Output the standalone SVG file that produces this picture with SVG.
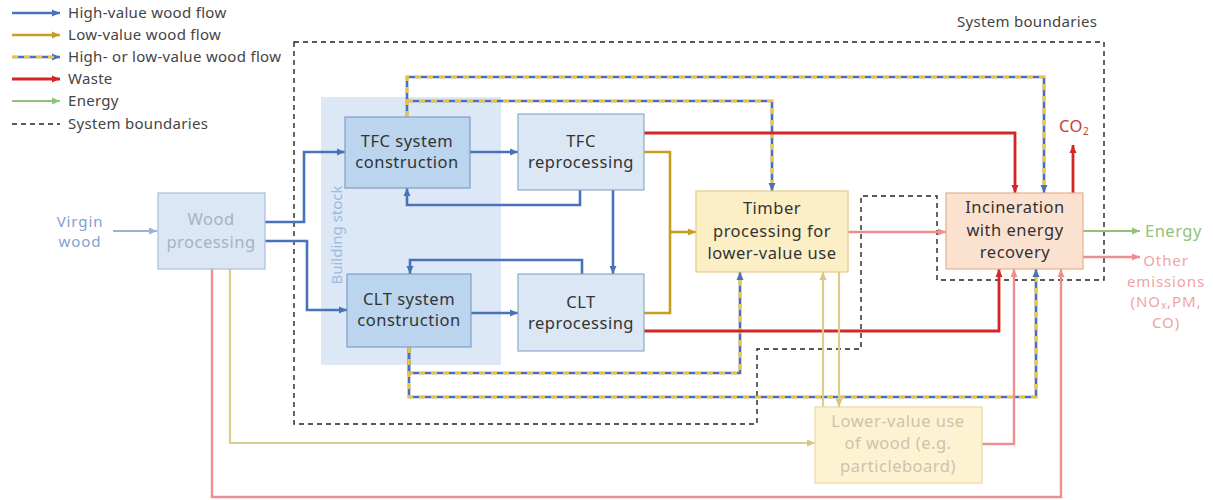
<svg xmlns="http://www.w3.org/2000/svg" width="1213" height="500" viewBox="0 0 1213 500">
  <style>
    text { font-family: "Noto Sans", "Liberation Sans", sans-serif; }
    .lbl { font-size: 16.5px; fill: #333; text-anchor: middle; letter-spacing: 0.5px; }
    .sm { font-size: 15px; letter-spacing: 0.9px; }
    .leg { font-size: 15px; fill: #444; letter-spacing: 0.3px; }
    .box { stroke-width: 1.2; }
    .blue { fill: none; stroke: #4a72bb; stroke-width: 2.6; }
    .gold { fill: none; stroke: #c69e22; stroke-width: 2.6; }
    .red { fill: none; stroke: #d42626; stroke-width: 2.8; }
    .pink { fill: none; stroke: #ee8f8f; stroke-width: 2.4; }
    .lgold { fill: none; stroke: #dccd8c; stroke-width: 2.2; }
    .green { fill: none; stroke: #92c27a; stroke-width: 2.2; }
    .lblue { fill: none; stroke: #97b3d8; stroke-width: 2.2; }
    .mix { fill: none; stroke: #f3c232; stroke-width: 2.6; stroke-dasharray: 6 6; }
    .bound { fill: none; stroke: #222; stroke-width: 1.4; stroke-dasharray: 5 4; }
  </style>
  <defs>
    <marker id="aBlue" markerUnits="userSpaceOnUse" markerWidth="9" markerHeight="8" refX="8" refY="4" orient="auto"><path d="M0,0.5 L8,4 L0,7.5 z" fill="#4a72bb"/></marker>
    <marker id="aGold" markerUnits="userSpaceOnUse" markerWidth="9" markerHeight="8" refX="8" refY="4" orient="auto"><path d="M0,0.5 L8,4 L0,7.5 z" fill="#c69e22"/></marker>
    <marker id="aRed" markerUnits="userSpaceOnUse" markerWidth="9" markerHeight="8" refX="8" refY="4" orient="auto"><path d="M0,0.5 L8,4 L0,7.5 z" fill="#d42626"/></marker>
    <marker id="aPink" markerUnits="userSpaceOnUse" markerWidth="9" markerHeight="8" refX="8" refY="4" orient="auto"><path d="M0,0.5 L8,4 L0,7.5 z" fill="#ee8f8f"/></marker>
    <marker id="aLgold" markerUnits="userSpaceOnUse" markerWidth="9" markerHeight="8" refX="8" refY="4" orient="auto"><path d="M0,0.5 L8,4 L0,7.5 z" fill="#d6c681"/></marker>
    <marker id="aGreen" markerUnits="userSpaceOnUse" markerWidth="9" markerHeight="8" refX="8" refY="4" orient="auto"><path d="M0,0.5 L8,4 L0,7.5 z" fill="#92c27a"/></marker>
    <marker id="aLblue" markerUnits="userSpaceOnUse" markerWidth="9" markerHeight="8" refX="8" refY="4" orient="auto"><path d="M0,0.5 L8,4 L0,7.5 z" fill="#97b3d8"/></marker>
  </defs>

  <!-- Legend -->
  <g id="legend">
    <line x1="12" y1="13" x2="60" y2="13" class="blue" marker-end="url(#aBlue)"/>
    <text x="68" y="18" class="leg">High-value wood flow</text>
    <line x1="12" y1="35" x2="60" y2="35" class="gold" marker-end="url(#aGold)"/>
    <text x="68" y="40" class="leg">Low-value wood flow</text>
    <line x1="12" y1="57" x2="60" y2="57" class="blue" marker-end="url(#aBlue)"/>
    <line x1="12" y1="57" x2="56" y2="57" class="mix"/>
    <text x="68" y="62" class="leg">High- or low-value wood flow</text>
    <line x1="12" y1="79" x2="60" y2="79" class="red" marker-end="url(#aRed)"/>
    <text x="68" y="84" class="leg">Waste</text>
    <line x1="12" y1="101" x2="60" y2="101" class="green" marker-end="url(#aGreen)"/>
    <text x="68" y="106" class="leg">Energy</text>
    <line x1="12" y1="124" x2="60" y2="124" class="bound"/>
    <text x="68" y="129" class="leg">System boundaries</text>
  </g>

  <!-- Building stock backdrop -->
  <g id="building-stock">
    <rect x="321" y="97" width="180" height="268" fill="#dce8f5"/>
    <text transform="translate(342,235) rotate(-90)" text-anchor="middle" style="font-size:15px;fill:#9cb9de">Building stock</text>
  </g>

  <!-- System boundaries -->
  <g id="system-boundaries">
    <path d="M294,42 H1104 V280 H937 V196 H861 V349 H757 V424 H294 Z" class="bound"/>
    <text x="957" y="27" class="leg">System boundaries</text>
  </g>

  <!-- Connectors -->
  <g id="connectors">
    <!-- virgin wood in -->
    <line x1="113" y1="231" x2="157" y2="231" class="lblue" marker-end="url(#aLblue)"/>
    <!-- wood processing to constructions -->
    <path d="M265,222 H304 V152 H345" class="blue" marker-end="url(#aBlue)"/>
    <path d="M265,241 H307 V310 H347" class="blue" marker-end="url(#aBlue)"/>
    <!-- construction to reprocessing -->
    <path d="M470,152 H518" class="blue" marker-end="url(#aBlue)"/>
    <path d="M471,313 H518" class="blue" marker-end="url(#aBlue)"/>
    <!-- reprocessing back to construction -->
    <path d="M580,190 V205 H407 V188" class="blue" marker-end="url(#aBlue)"/>
    <path d="M582,274 V260 H410 V274" class="blue" marker-end="url(#aBlue)"/>
    <!-- TFC reprocessing to CLT reprocessing -->
    <path d="M613,190 V274" class="blue" marker-end="url(#aBlue)"/>

    <!-- low-value flows to timber processing -->
    <path d="M644,152 H670 V313 H644" class="gold"/>
    <path d="M670,232 H696" class="gold" marker-end="url(#aGold)"/>

    <!-- high- or low-value flows from TFC construction -->
    <path d="M407,117 V77 H1044 V193" class="blue" marker-end="url(#aBlue)"/>
    <path d="M407,117 V77 H1044 V185" class="mix"/>
    <path d="M407,101 H772 V191" class="blue" marker-end="url(#aBlue)"/>
    <path d="M407,101 H772 V183" class="mix"/>
    <!-- high- or low-value flows from CLT construction -->
    <path d="M409,347 V373 H740 V272" class="blue" marker-end="url(#aBlue)"/>
    <path d="M409,347 V373 H740 V280" class="mix"/>
    <path d="M409,347 V397 H1036 V269" class="blue" marker-end="url(#aBlue)"/>
    <path d="M409,347 V397 H1036 V277" class="mix"/>

    <!-- waste to incineration -->
    <path d="M644,133 H1015 V193" class="red" marker-end="url(#aRed)"/>
    <path d="M644,331 H999 V269" class="red" marker-end="url(#aRed)"/>
    <path d="M1073,193 V145" class="red" marker-end="url(#aRed)"/>

    <!-- timber to incineration -->
    <path d="M848,232 H946" class="pink" marker-end="url(#aPink)"/>
    <!-- timber and lower-value use exchange -->
    <path d="M823,407 V272" class="lgold" marker-end="url(#aLgold)"/>
    <path d="M839,272 V407" class="lgold" marker-end="url(#aLgold)"/>
    <!-- wood processing by-products -->
    <path d="M230,269 V443 H815" class="lgold" marker-end="url(#aLgold)"/>
    <path d="M212,269 V497 H1061 V269" class="pink" marker-end="url(#aPink)"/>
    <!-- lower-value use to incineration -->
    <path d="M982,444 H1014 V269" class="pink" marker-end="url(#aPink)"/>

    <!-- incineration outputs -->
    <path d="M1083,231 H1140" class="green" marker-end="url(#aGreen)"/>
    <path d="M1083,257 H1140" class="pink" marker-end="url(#aPink)"/>
  </g>

  <!-- Nodes -->
  <g id="virgin-wood">
    <text x="80" y="227" class="lbl sm" style="fill:#7fa2cf">Virgin</text>
    <text x="80" y="247" class="lbl sm" style="fill:#7fa2cf">wood</text>
  </g>
  <g id="wood-processing">
    <rect x="158" y="193" width="107" height="76" class="box" fill="#dbe7f4" stroke="#a9bfdc"/>
    <text x="211" y="225" class="lbl" style="fill:#a7b3c2">Wood</text>
    <text x="211" y="248" class="lbl" style="fill:#a7b3c2">processing</text>
  </g>
  <g id="tfc-construction">
    <rect x="345" y="117" width="125" height="71" class="box" fill="#bcd5ee" stroke="#7d9fcc"/>
    <text x="407" y="147" class="lbl">TFC system</text>
    <text x="407" y="168" class="lbl">construction</text>
  </g>
  <g id="tfc-reprocessing">
    <rect x="518" y="114" width="126" height="76" class="box" fill="#dbe7f4" stroke="#8ea9cc"/>
    <text x="581" y="147" class="lbl">TFC</text>
    <text x="581" y="168" class="lbl">reprocessing</text>
  </g>
  <g id="clt-construction">
    <rect x="347" y="274" width="124" height="73" class="box" fill="#bcd5ee" stroke="#7d9fcc"/>
    <text x="409" y="305" class="lbl">CLT system</text>
    <text x="409" y="326" class="lbl">construction</text>
  </g>
  <g id="clt-reprocessing">
    <rect x="518" y="274" width="126" height="77" class="box" fill="#dbe7f4" stroke="#8ea9cc"/>
    <text x="581" y="308" class="lbl">CLT</text>
    <text x="581" y="329" class="lbl">reprocessing</text>
  </g>
  <g id="timber-processing">
    <rect x="696" y="191" width="152" height="81" class="box" fill="#fcefc6" stroke="#e3cb83"/>
    <text x="772" y="214" class="lbl">Timber</text>
    <text x="772" y="237" class="lbl">processing for</text>
    <text x="772" y="259" class="lbl">lower-value use</text>
  </g>
  <g id="incineration">
    <rect x="946" y="193" width="137" height="76" class="box" fill="#fbe2d0" stroke="#e6b08e"/>
    <text x="1015" y="213" class="lbl">Incineration</text>
    <text x="1015" y="236" class="lbl">with energy</text>
    <text x="1015" y="258" class="lbl">recovery</text>
  </g>
  <g id="lower-value-use">
    <rect x="815" y="407" width="167" height="76" class="box" fill="#fdf2d2" stroke="#eadaa2"/>
    <text x="898" y="427" class="lbl" style="fill:#cdc4aa">Lower-value use</text>
    <text x="898" y="449" class="lbl" style="fill:#cdc4aa">of wood (e.g.</text>
    <text x="898" y="472" class="lbl" style="fill:#cdc4aa">particleboard)</text>
  </g>
  <g id="co2">
    <text x="1059" y="132" class="lbl" style="text-anchor:start;fill:#c73a3a">CO<tspan dy="3" style="font-size:10px">2</tspan></text>
  </g>
  <g id="energy">
    <text x="1145" y="237" class="lbl" style="text-anchor:start;fill:#92c27a">Energy</text>
  </g>
  <g id="other-emissions">
    <text x="1166" y="266" class="lbl sm" style="fill:#f0a4a4">Other</text>
    <text x="1166" y="287" class="lbl sm" style="fill:#f0a4a4">emissions</text>
    <text x="1166" y="307" class="lbl sm" style="fill:#f0a4a4">(NO<tspan dy="2" style="font-size:10px">x</tspan><tspan dy="-2">,PM,</tspan></text>
    <text x="1166" y="328" class="lbl sm" style="fill:#f0a4a4">CO)</text>
  </g>
</svg>
